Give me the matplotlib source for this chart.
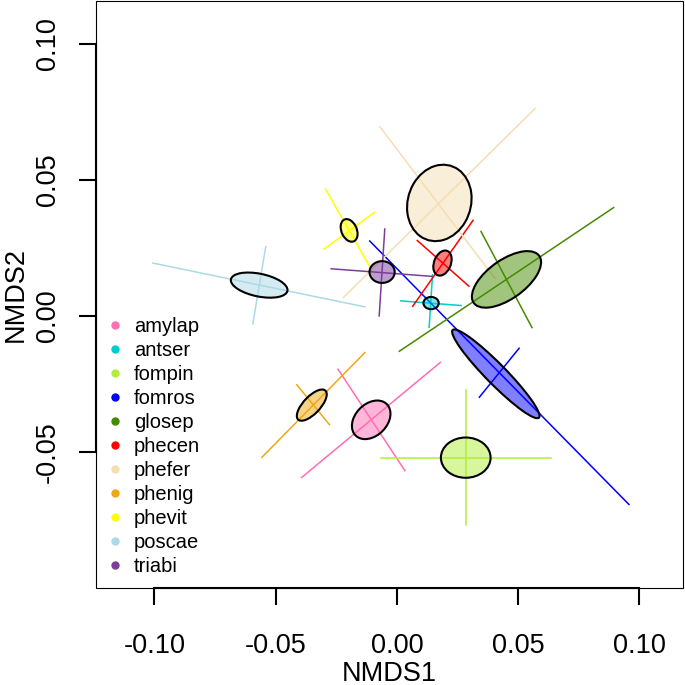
import numpy as np
import matplotlib
matplotlib.use("Agg")
import matplotlib.pyplot as plt
from matplotlib.patches import Ellipse, Rectangle
from matplotlib.lines import Line2D

plt.rcParams['font.family'] = ['Liberation Sans', 'DejaVu Sans']

# --- groups and colours ---
groups = ['amylap', 'antser', 'fompin', 'fomros', 'glosep', 'phecen',
          'phefer', 'phenig', 'phevit', 'poscae', 'triabi']
colors = ['#FF6EB4', '#00CDCD', '#B3EE3A', '#0000FF', '#458B00', '#FF0000',
          '#F5DEB3', '#EEA912', '#FFFF00', '#ADD8E6', '#7A3E9A']

# --- ellipses (centre, full width/height in NMDS units, angle in degrees) ---
ell_x = [-0.0106, 0.0141, 0.0284, 0.0408, 0.0452, 0.0188, 0.0175, -0.0351, -0.0197, -0.0568, -0.0061]
ell_y = [-0.0381, 0.0048, -0.0520, -0.0212, 0.0135, 0.0195, 0.0416, -0.0327, 0.0315, 0.0114, 0.0162]
ell_w = [0.0174, 0.0063, 0.0205, 0.0480, 0.0321, 0.0098, 0.0291, 0.0155, 0.0089, 0.0237, 0.0104]
ell_h = [0.0123, 0.0045, 0.0148, 0.0078, 0.0147, 0.0068, 0.0255, 0.0066, 0.0062, 0.0084, 0.0080]
ell_ang = [35, 0, 0, -42, 31, 62, 57, 42, -60, -10, 0]

# --- spread lines (x0, y0, x1, y1) ---
line_a = [(-0.0393, -0.0593, 0.0179, -0.0170),
          (0.0016, 0.0056, 0.0265, 0.0039),
          (-0.0066, -0.0520, 0.0636, -0.0520),
          (-0.0112, 0.0276, 0.0957, -0.0692),
          (0.0010, -0.0129, 0.0894, 0.0399),
          (0.0065, 0.0036, 0.0314, 0.0352),
          (-0.0221, 0.0068, 0.0570, 0.0763),
          (-0.0557, -0.0519, -0.0132, -0.0134),
          (-0.0295, 0.0468, -0.0111, 0.0180),
          (-0.1006, 0.0195, -0.0132, 0.0034),
          (-0.0271, 0.0174, 0.0147, 0.0146)]
line_b = [(-0.0243, -0.0195, 0.0033, -0.0568),
          (0.0147, 0.0152, 0.0133, -0.0041),
          (0.0284, -0.0273, 0.0284, -0.0769),
          (0.0340, -0.0298, 0.0504, -0.0118),
          (0.0347, 0.0311, 0.0557, -0.0042),
          (0.0084, 0.0278, 0.0297, 0.0110),
          (-0.0071, 0.0697, 0.0404, 0.0139),
          (-0.0413, -0.0252, -0.0278, -0.0399),
          (-0.0300, 0.0247, -0.0093, 0.0381),
          (-0.0541, 0.0255, -0.0594, -0.0028),
          (-0.0050, 0.0320, -0.0073, 0.0001)]

xticks = [-0.10, -0.05, 0.00, 0.05, 0.10]
yticks = [-0.05, 0.00, 0.05, 0.10]

fig = plt.figure(figsize=(6.85, 6.85), dpi=100)
ax = fig.add_axes([96 / 685, 1 - 588 / 685, 587 / 685, 587 / 685])

for i, g in enumerate(groups):
    for seg in (line_a[i], line_b[i]):
        ax.plot([seg[0], seg[2]], [seg[1], seg[3]], color=colors[i], lw=1.1, zorder=2)

for i, g in enumerate(groups):
    e = Ellipse((ell_x[i], ell_y[i]), ell_w[i], ell_h[i], angle=ell_ang[i],
                facecolor=colors[i], alpha=0.5, edgecolor='none', zorder=3)
    ax.add_patch(e)
    e2 = Ellipse((ell_x[i], ell_y[i]), ell_w[i], ell_h[i], angle=ell_ang[i],
                 facecolor='none', edgecolor='black', lw=1.5, zorder=4)
    ax.add_patch(e2)

ax.set_xlim(-0.1241, 0.1180)
ax.set_ylim(-0.0999, 0.1158)

# R-style box and axes
for s in ax.spines.values():
    s.set_visible(False)
ax.add_patch(Rectangle((0, 0), 1, 1, transform=ax.transAxes, fill=False,
                       lw=0.8, edgecolor='black', clip_on=False, zorder=5))
ax.spines['bottom'].set_visible(True)
ax.spines['left'].set_visible(True)
ax.spines['bottom'].set_bounds(-0.10, 0.10)
ax.spines['left'].set_bounds(-0.05, 0.10)
ax.spines['bottom'].set_linewidth(1.5)
ax.spines['left'].set_linewidth(1.5)

ax.set_xticks(xticks)
ax.set_xticklabels(['%.2f' % t for t in xticks])
ax.set_yticks(yticks)
ax.set_yticklabels(['%.2f' % t for t in yticks], rotation=90, va='center')
ax.tick_params(axis='both', length=12, width=1.5, labelsize=19.5)
ax.tick_params(axis='x', pad=20.5)
ax.tick_params(axis='y', pad=13.5)

ax.set_xlabel('NMDS1', fontsize=19.5, labelpad=1)
ax.set_ylabel('NMDS2', fontsize=19.5, labelpad=4)

handles = [Line2D([], [], marker='o', ls='', color=c, markersize=5) for c in colors]
ax.legend(handles, groups, loc='upper left', bbox_to_anchor=(0.0145, 0.462),
          frameon=False, fontsize=14.5, handlelength=1.0, handletextpad=0.45,
          labelspacing=0.25, borderpad=0, borderaxespad=0)

fig.savefig('out.png', dpi=100)
